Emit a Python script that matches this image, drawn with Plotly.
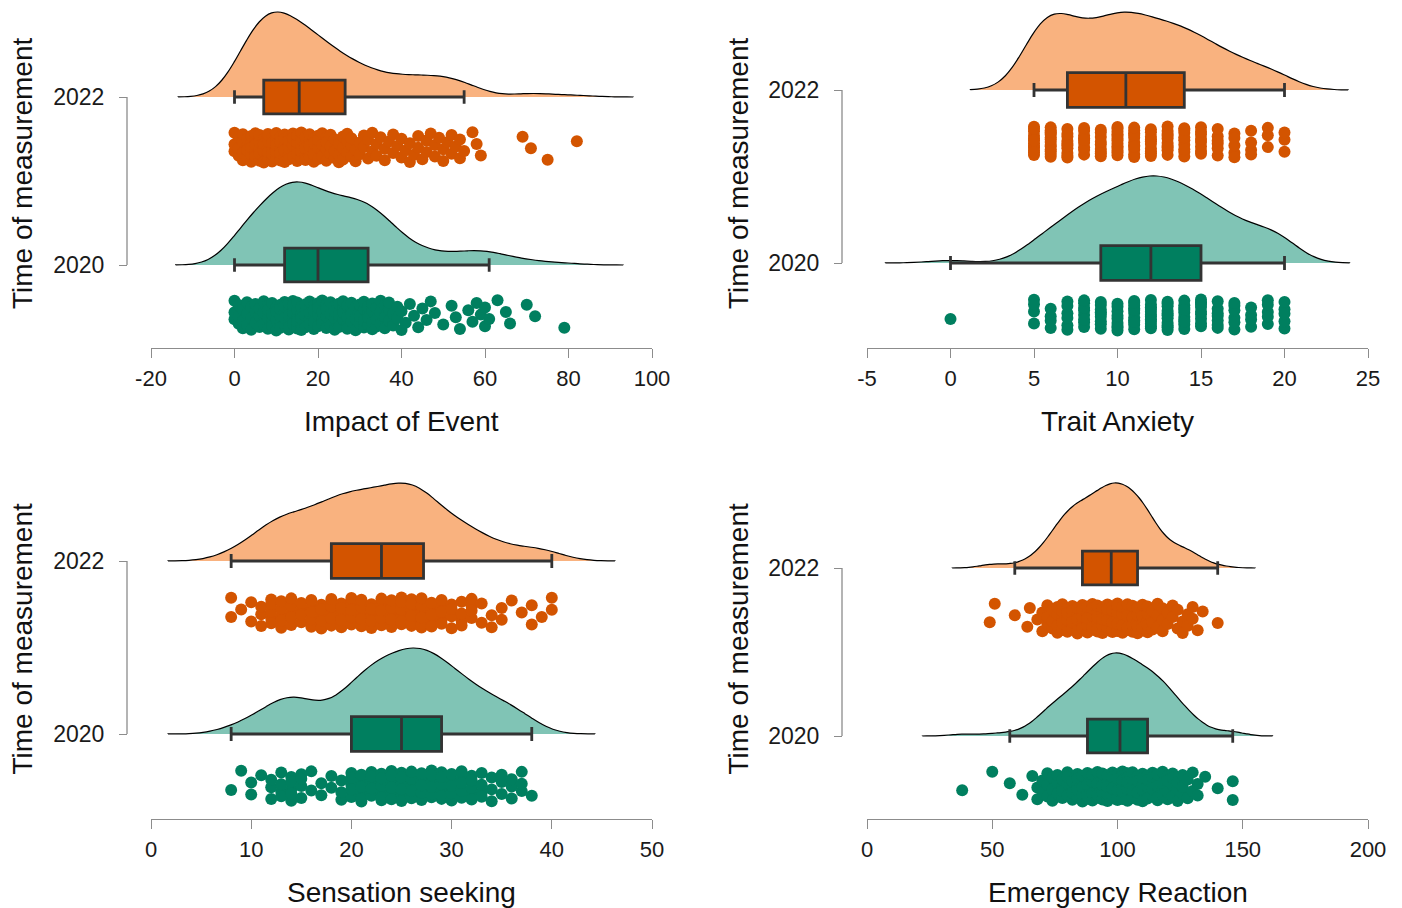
import numpy as np
import plotly.graph_objects as go

W, H = 1402, 908

# ---------------- data ----------------
year_labels = ["2020", "2022"]

# Impact of Event
impact_2022_values = [0, 1, 2, 3, 4, 5, 6, 7, 8, 9, 10, 11, 12, 13, 14, 15, 16, 17, 18, 19, 20,
                      21, 22, 23, 24, 25, 26, 27, 28, 29, 30, 31, 32, 33, 34, 35, 36, 37, 38, 39,
                      40, 41, 42, 43, 44, 45, 46, 47, 48, 49, 50, 51, 52, 53, 54, 55, 57, 58, 59,
                      69, 71, 75, 82]
impact_2022_counts = [3, 3, 4, 4, 5, 6, 6, 6, 7, 7, 7, 6, 6, 6, 5, 5, 5, 5, 5, 5, 4,
                      4, 4, 3, 3, 3, 3, 3, 3, 2, 2, 2, 2, 2, 2, 1, 2, 1, 2, 1,
                      2, 1, 2, 1, 2, 1, 2, 1, 2, 1, 2, 1, 2, 1, 2, 1, 1, 1, 1,
                      1, 1, 1, 1]
impact_2020_values = [0, 1, 2, 3, 4, 5, 6, 7, 8, 9, 10, 11, 12, 13, 14, 15, 16, 17, 18, 19,
                      20, 21, 22, 23, 24, 25, 26, 27, 28, 29, 30, 31, 32, 33, 34, 35, 36, 37,
                      38, 39, 40, 41, 42, 43, 44, 45, 46, 47, 48, 50, 52, 53, 54, 56, 57, 58,
                      59, 60, 61, 63, 65, 66, 70, 72, 79]
impact_2020_counts = [3, 3, 3, 3, 3, 3, 3, 4, 4, 4, 4, 5, 6, 6, 6, 5, 5, 5, 5, 5,
                      4, 4, 4, 4, 4, 4, 4, 4, 4, 4, 4, 4, 4, 4, 4, 3, 3, 3,
                      2, 2, 2, 1, 1, 1, 1, 1, 1, 1, 1, 1, 1, 1, 1, 1, 1, 1,
                      1, 2, 1, 1, 1, 1, 1, 1, 1]

# Trait Anxiety
anxiety_2022_values = [5, 6, 7, 8, 9, 10, 11, 12, 13, 14, 15, 16, 17, 18, 19, 20]
anxiety_2022_counts = [12, 14, 10, 9, 9, 13, 11, 10, 10, 9, 8, 6, 5, 4, 3, 3]
anxiety_2020_values = [0, 5, 6, 7, 8, 9, 10, 11, 12, 13, 14, 15, 16, 17, 18, 19, 20]
anxiety_2020_counts = [1, 4, 4, 6, 8, 9, 9, 11, 12, 11, 10, 9, 7, 6, 4, 5, 5]

# Sensation seeking
seeking_2022_values = [8, 9, 10, 11, 12, 13, 14, 15, 16, 17, 18, 19, 20, 21, 22, 23, 24, 25,
                       26, 27, 28, 29, 30, 31, 32, 33, 34, 35, 36, 37, 38, 39, 40]
seeking_2022_counts = [2, 1, 2, 3, 5, 5, 5, 4, 5, 6, 6, 7, 7, 7, 7, 7, 7, 8,
                       9, 9, 5, 5, 4, 4, 4, 2, 2, 2, 1, 1, 2, 1, 2]
seeking_2020_values = [8, 9, 10, 11, 12, 13, 14, 15, 16, 17, 18, 19, 20, 21, 22, 23, 24, 25,
                       26, 27, 28, 29, 30, 31, 32, 33, 34, 35, 36, 37, 38]
seeking_2020_counts = [1, 1, 2, 1, 3, 4, 5, 4, 2, 2, 2, 3, 5, 6, 7, 7, 7, 8,
                       8, 9, 8, 7, 6, 5, 5, 4, 3, 3, 3, 3, 1]

# Emergency Reaction
emergency_2022_values = [49, 51, 59, 64, 65, 68, 70, 72, 74, 76, 78, 80, 82, 84, 86, 88, 90,
                         92, 94, 96, 98, 100, 102, 104, 106, 108, 110, 112, 114, 116, 118,
                         120, 122, 124, 126, 128, 130, 132, 134, 140]
emergency_2022_counts = [1, 1, 1, 1, 1, 1, 2, 3, 3, 4, 5, 6, 6, 6, 6, 6, 7,
                         7, 7, 8, 8, 9, 8, 7, 7, 7, 7, 6, 4, 3, 3,
                         2, 2, 2, 2, 2, 2, 1, 1, 1]
emergency_2020_values = [38, 50, 57, 62, 66, 68, 70, 72, 74, 76, 78, 80, 82, 84, 86, 88, 90,
                         92, 94, 96, 98, 100, 102, 104, 106, 108, 110, 112, 114, 116, 118,
                         120, 122, 124, 126, 128, 130, 132, 135, 140, 146]
emergency_2020_counts = [1, 1, 1, 1, 1, 2, 2, 3, 3, 3, 4, 4, 4, 5, 5, 6, 6,
                         7, 7, 8, 8, 8, 8, 7, 7, 7, 6, 6, 6, 6, 5,
                         5, 4, 3, 3, 2, 2, 2, 1, 1, 2]

# box statistics [2020, 2022]
impact_lower = [0, 0];     impact_q1 = [12, 7];     impact_median = [20, 15.5];   impact_q3 = [32, 26.5];   impact_upper = [61, 55]
anxiety_lower = [0, 5];    anxiety_q1 = [9, 7];     anxiety_median = [12, 10.5];  anxiety_q3 = [15, 14];    anxiety_upper = [20, 20]
seeking_lower = [8, 8];    seeking_q1 = [20, 18];   seeking_median = [25, 23];    seeking_q3 = [29, 27.2];  seeking_upper = [38, 40]
emergency_lower = [57, 59]; emergency_q1 = [88, 86]; emergency_median = [101, 97.5]; emergency_q3 = [112, 108]; emergency_upper = [146, 140]

# density bandwidths [2020, 2022]
impact_bw = [4.7, 4.5]
anxiety_bw = [1.3, 1.27]
seeking_bw = [2.1, 2.1]
emergency_bw = [5.3, 5.0]

# axis ticks
impact_ticks = [-20, 0, 20, 40, 60, 80, 100]
anxiety_ticks = [-5, 0, 5, 10, 15, 20, 25]
seeking_ticks = [0, 10, 20, 30, 40, 50]
emergency_ticks = [0, 50, 100, 150, 200]

# ---------------- styling / layout ----------------
LIGHT = ["#80C4B5", "#F9B27F"]
DARK = ["#007F5F", "#D35400"]
AXIS_GREY = "#8c8c8c"
FONT = "Liberation Sans, Arial, sans-serif"


def px_x(p):
    return p / W


def px_y(p):
    return 1 - p / H


panels = [
    dict(name="Impact of Event", vals=[(impact_2020_values, impact_2020_counts), (impact_2022_values, impact_2022_counts)],
         lower=impact_lower, q1=impact_q1, med=impact_median, q3=impact_q3, upper=impact_upper, bw=impact_bw,
         ticks=impact_ticks, xdom=(151, 652), ydom=(0, 348), ypx=(265, 97), half=(0.494, 0.506),
         yline_px=127, title_x_px=22, xtitle_y_px=421),
    dict(name="Trait Anxiety", vals=[(anxiety_2020_values, anxiety_2020_counts), (anxiety_2022_values, anxiety_2022_counts)],
         lower=anxiety_lower, q1=anxiety_q1, med=anxiety_median, q3=anxiety_q3, upper=anxiety_upper, bw=anxiety_bw,
         ticks=anxiety_ticks, xdom=(867, 1368), ydom=(0, 348), ypx=(263, 90), half=(0.503, 0.45),
         yline_px=842, title_x_px=738, xtitle_y_px=421),
    dict(name="Sensation seeking", vals=[(seeking_2020_values, seeking_2020_counts), (seeking_2022_values, seeking_2022_counts)],
         lower=seeking_lower, q1=seeking_q1, med=seeking_median, q3=seeking_q3, upper=seeking_upper, bw=seeking_bw,
         ticks=seeking_ticks, xdom=(151, 652), ydom=(460, 819), ypx=(734, 561), half=(0.497, 0.45),
         yline_px=127, title_x_px=22, xtitle_y_px=892),
    dict(name="Emergency Reaction", vals=[(emergency_2020_values, emergency_2020_counts), (emergency_2022_values, emergency_2022_counts)],
         lower=emergency_lower, q1=emergency_q1, med=emergency_median, q3=emergency_q3, upper=emergency_upper, bw=emergency_bw,
         ticks=emergency_ticks, xdom=(867, 1368), ydom=(460, 819), ypx=(736, 568), half=(0.494, 0.506),
         yline_px=842, title_x_px=738, xtitle_y_px=892),
]

fig = go.Figure()
layout = dict(width=W, height=H, margin=dict(l=0, r=0, t=0, b=0, autoexpand=False),
              paper_bgcolor="white", plot_bgcolor="white", showlegend=False,
              violinmode="overlay", boxmode="overlay",
              font=dict(family=FONT, color="#1a1a1a"))
shapes, annotations = [], []


def jitter(n):
    u = (np.arange(n) * 0.6180339887 + 0.37) % 1.0
    return (u - 0.5) * 2 * 0.09


for i, p in enumerate(panels):
    sfx = "" if i == 0 else str(i + 1)
    xa, ya = "x" + sfx, "y" + sfx
    for g in range(2):
        vals, cnts = p["vals"][g]
        data = np.repeat(np.array(vals, dtype=float), cnts)
        bw = p["bw"][g]
        fig.add_trace(go.Violin(
            x=data, y0=g, orientation="h", side="positive", width=2 * p["half"][g],
            scalemode="width", bandwidth=bw, spanmode="manual",
            span=[data.min() - 3 * bw, data.max() + 3 * bw], points=False,
            box_visible=False, meanline_visible=False, fillcolor=LIGHT[g], opacity=1,
            line=dict(color="black", width=1.2), xaxis=xa, yaxis=ya, hoverinfo="skip"))
        fig.add_trace(go.Box(
            y=[g], q1=[p["q1"][g]], median=[p["med"][g]], q3=[p["q3"][g]],
            lowerfence=[p["lower"][g]], upperfence=[p["upper"][g]], orientation="h",
            width=0.2, whiskerwidth=0.4, fillcolor=DARK[g], boxpoints=False,
            line=dict(color="#333333", width=2.8), xaxis=xa, yaxis=ya, hoverinfo="skip"))
        fig.add_trace(go.Scatter(
            x=data, y=g - 0.30 + jitter(len(data)), mode="markers",
            marker=dict(size=12, color=DARK[g], line=dict(width=0)),
            xaxis=xa, yaxis=ya, hoverinfo="skip"))

    x0, x1 = p["xdom"]
    yt, yb = p["ydom"]
    p2020, p2022 = p["ypx"]
    unit = (p2020 - p2022)
    ylo = -(yb - p2020) / unit
    yhi = 1 + (p2022 - yt) / unit
    layout["xaxis" + sfx] = dict(
        domain=[px_x(x0), px_x(x1)], range=[p["ticks"][0], p["ticks"][-1]], anchor=ya,
        tickvals=p["ticks"], ticktext=[str(t) for t in p["ticks"]], automargin=False,
        showline=True, linecolor=AXIS_GREY, linewidth=1.3, ticks="outside", ticklen=9,
        tickcolor=AXIS_GREY, tickwidth=1.3, showgrid=False, zeroline=False,
        tickfont=dict(size=22, color="#1a1a1a", family=FONT), ticklabelstandoff=1)
    layout["yaxis" + sfx] = dict(
        domain=[px_y(yb), px_y(yt)], range=[ylo, yhi], type="linear", anchor="free",
        position=px_x(p["yline_px"]), tickvals=[0, 1], ticktext=year_labels, automargin=False,
        ticks="outside", ticklen=8, tickcolor=AXIS_GREY, tickwidth=1.3, showline=False,
        showgrid=False, zeroline=False, tickfont=dict(size=23, color="#1a1a1a", family=FONT),
        ticklabelstandoff=10)
    shapes.append(dict(type="line", xref="paper", yref=ya, x0=px_x(p["yline_px"]),
                       x1=px_x(p["yline_px"]), y0=0, y1=1,
                       line=dict(color=AXIS_GREY, width=1.3)))
    annotations.append(dict(text=p["name"], xref="paper", yref="paper",
                            x=px_x((x0 + x1) / 2), y=px_y(p["xtitle_y_px"]),
                            xanchor="center", yanchor="middle", showarrow=False,
                            font=dict(size=28, color="#111111", family=FONT)))
    annotations.append(dict(text="Time of measurement", xref="paper", yref="paper",
                            x=px_x(p["title_x_px"]), y=px_y((yt + yb) / 2), textangle=-90,
                            xanchor="center", yanchor="middle", showarrow=False,
                            font=dict(size=28, color="#111111", family=FONT)))

layout["shapes"] = shapes
layout["annotations"] = annotations
fig.update_layout(**layout)
fig.write_html("out.html", config={"displayModeBar": False},
               post_script="document.body.style.margin='0';document.body.style.padding='0';")
